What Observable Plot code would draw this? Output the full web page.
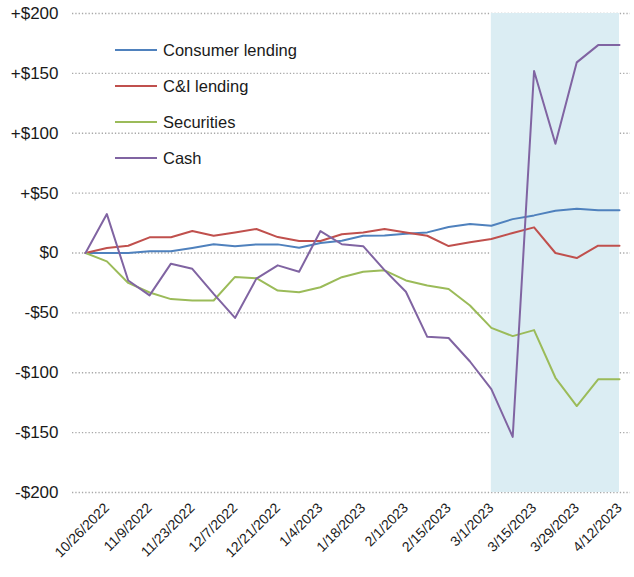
<!DOCTYPE html>
<html><head><meta charset="utf-8">
<script src="https://cdn.jsdelivr.net/npm/d3@7"></script>
<script src="https://cdn.jsdelivr.net/npm/@observablehq/plot@0.6"></script>
<style>
body{margin:0;background:#fff;}
#wrap{position:relative;width:634px;height:577px;font-family:"Liberation Sans",Arial,sans-serif;}
#legend{position:absolute;left:115px;top:32px;}
.row{display:flex;align-items:center;height:36px;font-size:16.5px;color:#1a1a1a;}
.sw{width:42px;height:2px;margin-right:6px;}
</style></head><body><div id="wrap"><div id="legend"></div></div>
<script>
const weeks = ["10/19/2022","10/26/2022","11/2/2022","11/9/2022","11/16/2022","11/23/2022","11/30/2022","12/7/2022","12/14/2022","12/21/2022","12/28/2022","1/4/2023","1/11/2023","1/18/2023","1/25/2023","2/1/2023","2/8/2023","2/15/2023","2/22/2023","3/1/2023","3/8/2023","3/15/2023","3/22/2023","3/29/2023","4/5/2023","4/12/2023"];
const tickLabels = ["10/26/2022","11/9/2022","11/23/2022","12/7/2022","12/21/2022","1/4/2023","1/18/2023","2/1/2023","2/15/2023","3/1/2023","3/15/2023","3/29/2023","4/12/2023"];
const seriesNames = ["Consumer lending","C&I lending","Securities","Cash"];
const consumer = [0,0,0,1.4,1.4,4.2,7.3,5.7,7.2,7.2,4.4,8.3,10.3,14.4,14.7,16.1,17.2,21.7,24.3,22.8,28.3,31.4,35.3,37,35.6,35.6];
const cni = [0,4.2,6.1,13.1,13.1,18.4,14.4,17.2,20,13.3,10,10,15.6,17.2,20,17.2,14.4,5.8,8.9,11.7,16.7,21.4,0,-4.2,6.1,6.1];
const securities = [0,-7,-25,-33,-38.5,-39.7,-39.7,-20,-21,-31.4,-32.7,-28.6,-20.2,-15.6,-14.5,-22.9,-27.2,-30,-43.8,-62.5,-69.4,-64.4,-104.2,-127.8,-105.5,-105.5];
const cash = [0,32.5,-23,-35.4,-8.9,-13.2,-34.2,-54.2,-21.4,-10.3,-15.6,18.3,7.3,5.7,-14.3,-32.4,-70,-71,-90.6,-113.6,-153.6,152,91.2,159.2,173.6,173.6];
const yTicks = [200,150,100,50,0,-50,-100,-150,-200];
const highlight = ["3/1/2023","4/12/2023"];
const colors = ["#4F81BD","#C0504D","#9BBB59","#8064A2"];

const parse = d3.utcParse("%m/%d/%Y");
const fmtDate = d => `${d.getUTCMonth()+1}/${d.getUTCDate()}/${d.getUTCFullYear()}`;
const fmtMoney = d => d > 0 ? `+$${d}` : d < 0 ? `-$${-d}` : "$0";
const values = [consumer, cni, securities, cash];
const data = seriesNames.flatMap((name, i) => values[i].map((v, j) => ({date: parse(weeks[j]), value: v, series: name})));
const shade = [{x1: parse(highlight[0]), x2: parse(highlight[1])}];

const chart = Plot.plot({
  width: 634, height: 577,
  marginTop: 13, marginBottom: 85, marginLeft: 85, marginRight: 15,
  style: {fontFamily: '"Liberation Sans",Arial,sans-serif', color: "#1a1a1a", background: "#fff"},
  x: {type: "utc", domain: [parse(weeks[0]), parse(weeks[weeks.length-1])]},
  y: {domain: [-200, 200]},
  color: {domain: seriesNames, range: colors},
  marks: [
    Plot.ruleY(yTicks, {stroke: "#a8a8a8", strokeWidth: 1.3, strokeDasharray: "1.3,2", insetLeft: -13, insetRight: -11}),
    Plot.rect(shade, {x1: "x1", x2: "x2", fill: "#dbedf3"}),
    Plot.line(data, {x: "date", y: "value", z: "series", stroke: "series", strokeWidth: 2}),
    Plot.axisY(yTicks, {tickSize: 0, tickPadding: 27, tickFormat: fmtMoney, fontSize: 17, label: null}),
    Plot.axisX(tickLabels.map(parse), {tickSize: 0, tickPadding: 13, tickRotate: -45, tickFormat: fmtDate, fontSize: 14, label: null})
  ]
});
document.getElementById("wrap").prepend(chart);

const legend = document.getElementById("legend");
seriesNames.forEach((name, i) => {
  const row = document.createElement("div");
  row.className = "row";
  const sw = document.createElement("div");
  sw.className = "sw";
  sw.style.background = colors[i];
  const t = document.createElement("span");
  t.textContent = name;
  row.append(sw, t);
  legend.append(row);
});
</script></body></html>
